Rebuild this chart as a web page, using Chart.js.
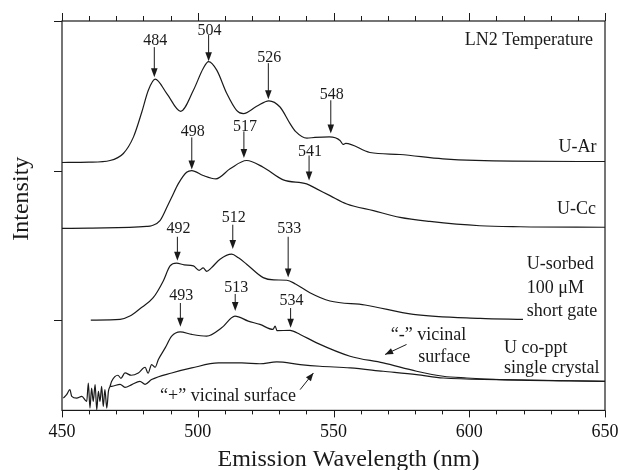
<!DOCTYPE html>
<html>
<head>
<meta charset="utf-8">
<script src="https://cdn.jsdelivr.net/npm/chart.js@4.4.1/dist/chart.umd.min.js"></script>
<style>
html,body{margin:0;padding:0;background:#fff;}
canvas{display:block;}
</style>
</head>
<body>
<canvas id="c" width="619" height="470"></canvas>
<script>
// ---- data (wavelength in nm, intensity in arbitrary offset units) ----
const xTickLabels = [450, 500, 550, 600, 650];
const yTickValues = [90, 239, 388];

const arNm  = [450, 460, 467.7, 472.6, 476.3, 479.4, 481.8, 484.3, 488.6, 493.7, 498.4, 502, 504, 507, 510.7, 514.3, 516.8, 521.7, 526.2, 530.3, 534, 536, 540.2, 543.2, 548.5, 552.4, 553.5, 554.5, 563.4, 574.5, 590.3, 616, 650];
const arVal = [247, 247.3, 249, 256, 272.3, 297.3, 319, 330, 315.7, 298, 319, 340.7, 347.5, 339, 315.7, 299, 295.7, 303, 308.5, 302.3, 285.7, 278, 271.3, 272, 272.5, 269, 265, 266, 257, 255, 250.7, 248.3, 248];

const ccNm  = [450, 460, 481.2, 483, 486.1, 489.2, 490.4, 492.8, 495.9, 497.8, 502, 506.7, 511.9, 518, 524.1, 531.5, 540.1, 543.8, 548.7, 554.9, 564.7, 574.5, 585.5, 603.9, 618.7, 650];
const ccVal = [181.3, 181.7, 183.3, 184, 189, 205.7, 212.3, 225.7, 237.3, 239, 234, 230.7, 240.7, 249, 242.3, 229.7, 225.7, 220.7, 214, 205.7, 199, 192.3, 188.3, 184, 183, 182.5];

const sorbNm  = [460.6, 471.4, 475, 478.7, 483.6, 487.3, 489.8, 492.2, 495, 498.4, 500.5, 502, 503.3, 505, 508.2, 512.5, 515, 518, 524.1, 528, 532.8, 536, 541.3, 548.7, 561.6, 579.4, 604, 619.8];
const sorbVal = [90, 90.7, 94, 101.3, 112.3, 129, 144, 146.7, 145, 144, 139.5, 142, 138.5, 142, 150.7, 155.7, 152, 145.7, 132.3, 130, 129.7, 126, 117.3, 109, 105, 95.7, 91.7, 90.7];

const minusNm  = [450.5, 451.7, 452.9, 453.6, 455.4, 457.3, 459.1, 459.7, 460.3, 460.9, 461.5, 462.2, 462.8, 463.4, 464, 464.6, 465.2, 465.8, 466.5, 467.1, 467.7,
  468.3, 470.6, 471.7, 473.2, 475.5, 478.1, 480.6, 481.7, 483, 484.3, 485.5, 488, 490.4, 493.5, 497.8, 503.3, 508.8, 513.7, 518.6, 522.9, 527.7, 528.5, 529.2, 534, 537.7, 543.8, 556.1, 568.3, 580.6, 590.4, 599.1, 611.3, 650];
const minusVal = [12.3, 15.7, 20.7, 14, 12.3, 14, 9, 27.3, 2.3, 22.3, 9, 25.7, 0.7, 19, 9, 24, 4, 20.7, 2.3, 19, 24,
  29, 35, 32, 37.3, 35, 37.3, 43, 37, 45.7, 43, 50.7, 62.3, 74, 78.3, 75.7, 74, 82.3, 94, 89, 85.7, 80.7, 84, 79.5, 79.7, 75.7, 67.3, 54, 47.3, 39, 34, 32.3, 30.7, 29];

const plusNm  = [467.7, 468.3, 471.4, 473.2, 475.7, 478.7, 480.6, 483, 490.4, 497.8, 507.6, 516.2, 522.9, 529.1, 537.7, 545, 556.1, 568.3, 580.6, 590.4, 611.3, 650];
const plusVal = [24, 24, 26, 23, 25.7, 29, 26, 30.7, 37.3, 42.3, 47.3, 47.3, 46.5, 48.3, 45.7, 44, 42.3, 39, 35.7, 32.3, 30.7, 29];

// peak markers: label, arrow x (nm), arrow tail, arrow tip, label centre (intensity units)
const peakLabels = ['484','504','526','548','498','517','541','492','512','533','493','513','534'];
const peakNm     = [484, 504, 526, 549, 497.8, 517, 541, 492.5, 512.9, 533.3, 493.6, 513.8, 534.2];
const peakTail   = [362, 374, 346, 309, 272, 278, 254, 173, 185, 173, 107, 116, 102];
const peakTip    = [332, 348, 310, 276, 240, 251.5, 229, 149, 160.7, 132.3, 83.3, 99, 82.3];
const peakText   = [368.3, 378.3, 351.7, 314, 278, 283, 257.3, 180.7, 192.3, 180.7, 114, 122.3, 109];

// text notes: text, x (nm), y (intensity), alignment
const noteTexts = ['LN2 Temperature', 'U-Ar', 'U-Cc', 'U-sorbed', '100 \u03BCM', 'short gate', '\u201C-\u201D vicinal', 'surface', 'U co-ppt', 'single crystal', '\u201C+\u201D vicinal surface'];
const noteNm    = [645.6, 646.9, 646.7, 621.2, 621.2, 621.2, 571.1, 581.2, 612.8, 612.8, 486.1];
const noteVal   = [369, 262.3, 200.7, 145.7, 121.7, 99, 75, 53, 62.3, 41.7, 14];
const noteAlign = ['right', 'right', 'right', 'left', 'left', 'left', 'left', 'left', 'left', 'left', 'left'];

// pointer arrows: tail (nm, val) -> head (nm, val)
const pointerFromNm  = [576.9, 537.7];
const pointerFromVal = [65.7, 20.7];
const pointerToNm    = [569, 542.6];
const pointerToVal   = [55.7, 37.3];

const SERIF = '"Liberation Serif", "Times New Roman", serif';
const INK = '#1a1a1a';

function pts(xs, ys) { return xs.map((v, i) => ({x: v, y: ys[i]})); }
function ds(xs, ys) {
  return { data: pts(xs, ys), borderColor: INK, borderWidth: 1.2, pointRadius: 0, cubicInterpolationMode: 'monotone', fill: false };
}

function arrowHead(ctx, x0, y0, x1, y1, len, half) {
  const ang = Math.atan2(y1 - y0, x1 - x0);
  ctx.beginPath();
  ctx.moveTo(x1, y1);
  ctx.lineTo(x1 - len * Math.cos(ang) + half * Math.sin(ang), y1 - len * Math.sin(ang) - half * Math.cos(ang));
  ctx.lineTo(x1 - len * Math.cos(ang) - half * Math.sin(ang), y1 - len * Math.sin(ang) + half * Math.cos(ang));
  ctx.closePath();
  ctx.fill();
}

const framePlugin = {
  id: 'frame',
  afterDatasetsDraw(chart) {
    const {ctx, chartArea: a, scales: {x, y}} = chart;
    ctx.save();
    ctx.strokeStyle = INK;
    ctx.fillStyle = INK;
    ctx.lineWidth = 1.2;
    ctx.strokeRect(a.left, a.top, a.right - a.left, a.bottom - a.top);
    ctx.lineWidth = 1;
    ctx.beginPath();
    for (let v = xTickLabels[0]; v <= xTickLabels[xTickLabels.length - 1]; v += 10) {
      const px = Math.round(x.getPixelForValue(v)) + 0.5;
      const major = xTickLabels.includes(v);
      ctx.moveTo(px, a.bottom); ctx.lineTo(px, a.bottom + (major ? 7 : 4));
      ctx.moveTo(px, a.top); ctx.lineTo(px, a.top - (major ? 8 : 5));
    }
    yTickValues.forEach(v => {
      const py = Math.round(y.getPixelForValue(v)) + 0.5;
      ctx.moveTo(a.left - 8, py); ctx.lineTo(a.left, py);
    });
    ctx.stroke();

    // peak arrows
    ctx.font = '16px ' + SERIF;
    ctx.textAlign = 'center';
    ctx.textBaseline = 'middle';
    peakLabels.forEach((t, i) => {
      const px = x.getPixelForValue(peakNm[i]);
      const y0 = y.getPixelForValue(peakTail[i]);
      const y1 = y.getPixelForValue(peakTip[i]);
      ctx.beginPath(); ctx.moveTo(px, y0); ctx.lineTo(px, y1 - 6); ctx.stroke();
      arrowHead(ctx, px, y0, px, y1, 9, 3.3);
      ctx.fillText(t, px + 1, y.getPixelForValue(peakText[i]));
    });

    // notes
    ctx.font = '18px ' + SERIF;
    noteTexts.forEach((t, i) => {
      ctx.textAlign = noteAlign[i];
      ctx.fillText(t, x.getPixelForValue(noteNm[i]), y.getPixelForValue(noteVal[i]));
    });

    // pointer arrows
    pointerFromNm.forEach((v, i) => {
      const x0 = x.getPixelForValue(v), y0 = y.getPixelForValue(pointerFromVal[i]);
      const x1 = x.getPixelForValue(pointerToNm[i]), y1 = y.getPixelForValue(pointerToVal[i]);
      ctx.beginPath(); ctx.moveTo(x0, y0); ctx.lineTo(x1, y1); ctx.stroke();
      arrowHead(ctx, x0, y0, x1, y1, 8, 3.2);
    });

    // axis titles
    ctx.font = '24px ' + SERIF;
    ctx.textAlign = 'center';
    ctx.fillText('Emission Wavelength (nm)', (a.left + a.right) / 2 + 15, a.bottom + 49);
    ctx.save();
    ctx.translate(a.left - 40, (a.top + a.bottom) / 2 - 17);
    ctx.rotate(-Math.PI / 2);
    ctx.fillText('Intensity', 0, 0);
    ctx.restore();
    ctx.restore();
  }
};

new Chart(document.getElementById('c'), {
  type: 'line',
  data: {
    datasets: [ds(arNm, arVal), ds(ccNm, ccVal), ds(sorbNm, sorbVal), ds(minusNm, minusVal), ds(plusNm, plusVal)]
  },
  options: {
    responsive: false,
    animation: false,
    devicePixelRatio: 1,
    layout: { padding: { left: 62, right: 14, top: 21, bottom: 16 } },
    plugins: { legend: { display: false }, tooltip: { enabled: false } },
    scales: {
      x: {
        type: 'linear', min: 450, max: 650,
        afterBuildTicks: s => { s.ticks = xTickLabels.map(v => ({value: v})); },
        afterFit: s => { s.paddingLeft = 0; s.paddingRight = 0; },
        ticks: { font: { family: SERIF, size: 18 }, color: '#111', padding: 11, maxRotation: 0 },
        grid: { display: false, drawTicks: false },
        border: { display: false }
      },
      y: {
        type: 'linear', min: 0, max: 388, display: false,
        afterBuildTicks: s => { s.ticks = yTickValues.map(v => ({value: v})); }
      }
    }
  },
  plugins: [framePlugin]
});
</script>
</body>
</html>
